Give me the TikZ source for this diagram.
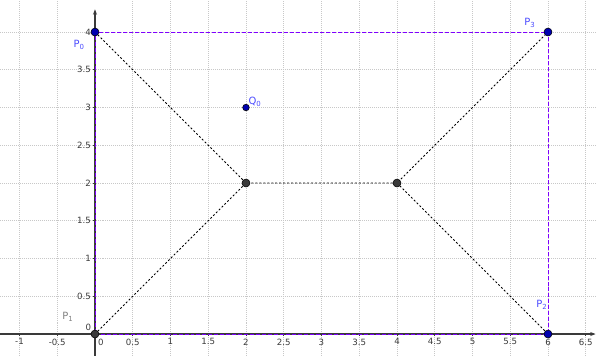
\documentclass[tikz,border=0pt]{standalone}
\usepackage{fontspec}
\setsansfont{DejaVu Sans}
\usetikzlibrary{arrows.meta, positioning}
\definecolor{gridgray}{HTML}{C8C8C8}
\definecolor{axisgray}{HTML}{3A3A3A}
\definecolor{ptblue}{HTML}{0000B0}
\definecolor{lblblue}{HTML}{4A4AFF}
\definecolor{hullpurple}{HTML}{7F00FF}

\begin{document}
\begin{tikzpicture}[
        x=2cm, y=2cm,
        font=\sffamily\fontsize{6.5}{7}\selectfont,
        gridline/.style={
            gridgray, 
            densely dotted, 
            line width=0.5pt
        },
        axisline/.style={
            axisgray, 
            line width=0.8pt
        },
        ticklabel/.style={
            text=axisgray, 
            inner sep=1pt
        },
        bluept/.style={
            circle, 
            fill=ptblue, 
            draw=black, 
            line width=0.4pt, 
            inner sep=0pt, 
            minimum size=6pt
        },
        graypt/.style={
            circle, 
            fill=axisgray, 
            draw=black, 
            line width=0.4pt, 
            inner sep=0pt, 
            minimum size=6pt
        },
        ptlabel/.style={
            text=lblblue, 
            font=\sffamily\fontsize{7.5}{8}\selectfont
        },
        hull/.style={
            hullpurple, 
            dash pattern=on 3pt off 1.5pt, 
            line width=0.6pt
        },
        spline/.style={
            black, 
            dash pattern=on 1.5pt off 1.5pt, 
            line width=0.6pt
        }
    ]

    \useasboundingbox (-1.258,-0.291) rectangle (6.649,4.424);

    % Grid
    \foreach \x in {-1,-0.5,0.5,1,1.5,2,2.5,3,3.5,4,4.5,5,5.5,6,6.5}
        \draw[gridline] (\x,-0.291) -- (\x,4.424);
    \foreach \y in {0.5,1,1.5,2,2.5,3,3.5,4}
        \draw[gridline] (-1.258,\y) -- (6.649,\y);

    % Axes
    \draw[axisline, -{Stealth[length=4pt]}] (-1.258,0) -- (6.63,0);
    \draw[axisline, -{Stealth[length=4pt]}] (0,-0.291) -- (0,4.3);

    % Ticks and labels
    \foreach \x in {-1,-0.5,0.5,1,1.5,2,2.5,3,3.5,4,4.5,5,5.5,6,6.5} {
        \draw[axisline, line width=0.5pt] (\x,0) -- (\x,-0.03);
        \node[ticklabel, anchor=north] (xl) at (\x,-0.04) {\x};
    }
    \foreach \y in {0.5,1,1.5,2,2.5,3,3.5,4} {
        \draw[axisline, line width=0.5pt] (0,\y) -- (-0.03,\y);
        \node[ticklabel, anchor=east] (yl) at (-0.035,\y) {\y};
    }
    \node[ticklabel, anchor=north west] (xzero) at (0.02,-0.04) {0};
    \node[ticklabel, anchor=south east] (yzero) at (-0.03,0.02) {0};

    % Control points
    \coordinate (P0) at (0,4);
    \coordinate (P1) at (0,0);
    \coordinate (P2) at (6,0);
    \coordinate (P3) at (6,4);
    \coordinate (Q0) at (2,3);
    \coordinate (A) at (2,2);
    \coordinate (B) at (4,2);

    % Bounding polygon
    \draw[hull] (P1) -- (P2) -- (P3) -- (P0) -- cycle;

    % Dotted path
    \draw[spline] (P0) -- (A) -- (B) -- (P3);
    \draw[spline] (P1) -- (A);
    \draw[spline] (B) -- (P2);

    % Points
    \node[bluept] (d0) at (P0) {};
    \node[graypt] (d1) at (P1) {};
    \node[bluept] (d2) at (P2) {};
    \node[bluept] (d3) at (P3) {};
    \node[bluept, minimum size=5pt] (dq) at (Q0) {};
    \node[graypt] (da) at (A) {};
    \node[graypt] (db) at (B) {};

    % Labels
    \node[ptlabel] (l0) at (-0.21,3.83) {P\textsubscript{0}};
    \node[ptlabel, text=gray] (l1) at (-0.36,0.23) {P\textsubscript{1}};
    \node[ptlabel] (l2) at (5.92,0.38) {P\textsubscript{2}};
    \node[ptlabel] (l3) at (5.76,4.12) {P\textsubscript{3}};
    \node[ptlabel] (lq) at (2.12,3.07) {Q\textsubscript{0}};

\end{tikzpicture}
\end{document}
